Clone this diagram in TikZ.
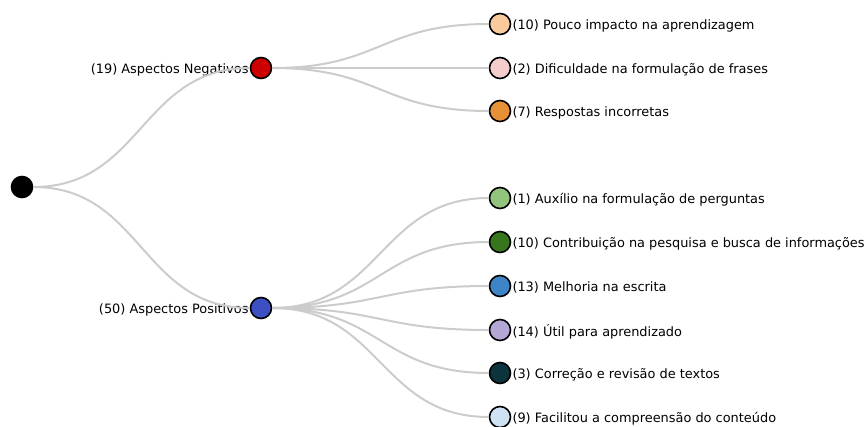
\documentclass[tikz,border=0pt]{standalone}
\usepackage{fontspec}
\setmainfont{DejaVu Sans}
\usepackage{tikz}
\usetikzlibrary{positioning}

\definecolor{negcol}{HTML}{CC0000}
\definecolor{poscol}{HTML}{3D50C3}
\definecolor{peach}{HTML}{F9CB9C}
\definecolor{pinkish}{HTML}{F4CCCC}
\definecolor{orangeish}{HTML}{E69138}
\definecolor{lightgreen}{HTML}{93C47D}
\definecolor{darkgreen}{HTML}{38761D}
\definecolor{midblue}{HTML}{3D85C6}
\definecolor{lavender}{HTML}{B4A7D6}
\definecolor{darkteal}{HTML}{0C343D}
\definecolor{paleblue}{HTML}{CFE2F3}
\definecolor{edgegray}{HTML}{CCCCCC}

\begin{document}
\begin{tikzpicture}[x=1pt,y=-1pt,font=\fontsize{12.9}{15}\selectfont]

\tikzstyle{dot} = [draw=black, line width=1.6pt, circle, minimum size=21pt, inner sep=0pt]
\tikzstyle{line} = [draw=edgegray, line width=2pt]
\tikzstyle{leaflabel} = [anchor=west, inner sep=1pt, yshift=-1.5pt]
\tikzstyle{midlabel} = [anchor=east, inner sep=1pt, yshift=-1.5pt]

\useasboundingbox (0,0) rectangle (864,426);

\node [dot, fill=black] (root) at (22,187) {};
\node [dot, fill=negcol] (neg) at (261,68) {};
\node [dot, fill=poscol] (pos) at (261,308) {};

\node [midlabel] at (neg.west) {(19) Aspectos Negativos};
\node [midlabel] at (pos.west) {(50) Aspectos Positivos};

% negative leaves
\node [dot, fill=peach] (n1) at (500,24) {};
\node [dot, fill=pinkish] (n2) at (500,68) {};
\node [dot, fill=orangeish] (n3) at (500,111) {};
\node [leaflabel] at (n1.east) {(10) Pouco impacto na aprendizagem};
\node [leaflabel] at (n2.east) {(2) Dificuldade na formulação de frases};
\node [leaflabel] at (n3.east) {(7) Respostas incorretas};

% positive leaves
\node [dot, fill=lightgreen] (p1) at (500,198) {};
\node [dot, fill=darkgreen] (p2) at (500,242) {};
\node [dot, fill=midblue] (p3) at (500,286) {};
\node [dot, fill=lavender] (p4) at (500,330) {};
\node [dot, fill=darkteal] (p5) at (500,373) {};
\node [dot, fill=paleblue] (p6) at (500,417) {};
\node [leaflabel] at (p1.east) {(1) Auxílio na formulação de perguntas};
\node [leaflabel] at (p2.east) {(10) Contribuição na pesquisa e busca de informações};
\node [leaflabel] at (p3.east) {(13) Melhoria na escrita};
\node [leaflabel] at (p4.east) {(14) Útil para aprendizado};
\node [leaflabel] at (p5.east) {(3) Correção e revisão de textos};
\node [leaflabel] at (p6.east) {(9) Facilitou a compreensão do conteúdo};

%edges
\path [line] (root) .. controls +(120,0) and +(-120,0) .. (neg);
\path [line] (root) .. controls +(120,0) and +(-120,0) .. (pos);
\foreach \leaf in {n1,n2,n3}
  \path [line] (neg) .. controls +(120,0) and +(-120,0) .. (\leaf);
\foreach \leaf in {p1,p2,p3,p4,p5,p6}
  \path [line] (pos) .. controls +(120,0) and +(-120,0) .. (\leaf);

\end{tikzpicture}
\end{document}
